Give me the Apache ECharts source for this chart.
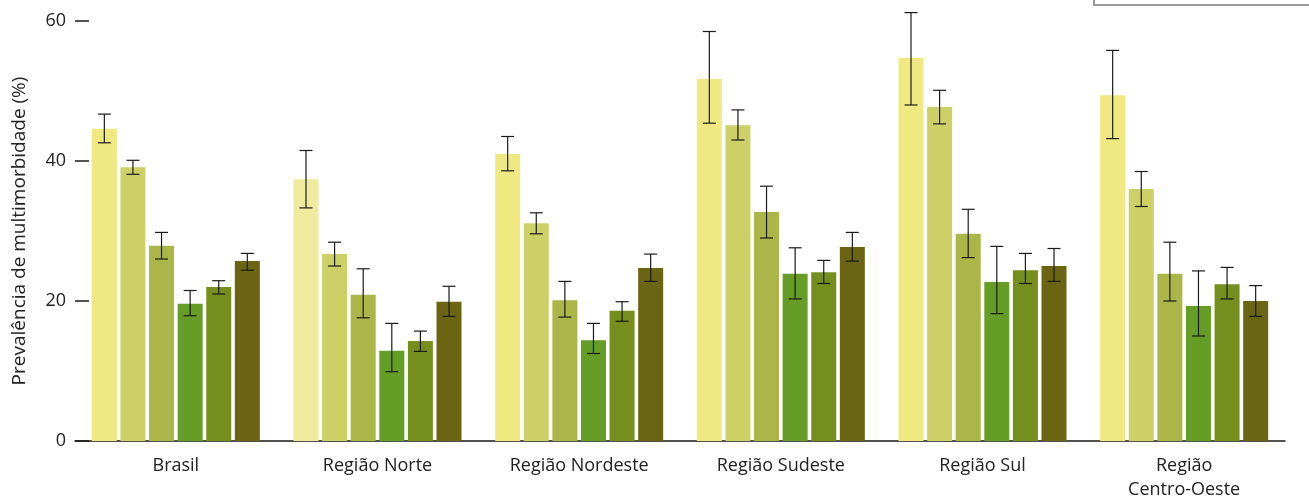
<!DOCTYPE html>
<html>
<head>
<meta charset="utf-8">
<script src="https://cdn.jsdelivr.net/npm/echarts@6/dist/echarts.min.js"></script>
<style>
  html, body { margin: 0; padding: 0; background: #fff; }
  #chart { width: 1309px; height: 499px; }
</style>
</head>
<body>
<div id="chart"></div>
<script>
// Regions on the x axis
const categories = ['Brasil', 'Região Norte', 'Região Nordeste', 'Região Sudeste', 'Região Sul', 'Região\nCentro-Oeste'];

// Prevalence (%) for each of the six series, one value per region
const serie1 = [44.6, 37.4, 41.0, 51.7, 54.7, 49.4];
const serie2 = [39.1, 26.7, 31.1, 45.1, 47.7, 36.0];
const serie3 = [27.9, 20.9, 20.1, 32.7, 29.6, 23.9];
const serie4 = [19.6, 12.9, 14.4, 23.9, 22.7, 19.3];
const serie5 = [22.0, 14.3, 18.6, 24.1, 24.4, 22.4];
const serie6 = [25.7, 19.9, 24.7, 27.7, 25.0, 20.0];

// 95% confidence limits (lower, upper) per series and region
const lower1 = [42.6, 33.3, 38.6, 45.4, 48.0, 43.2];
const upper1 = [46.7, 41.5, 43.5, 58.5, 61.2, 55.8];
const lower2 = [38.1, 25.0, 29.6, 43.0, 45.3, 33.5];
const upper2 = [40.1, 28.4, 32.6, 47.3, 50.1, 38.5];
const lower3 = [26.0, 17.6, 17.7, 29.0, 26.2, 20.0];
const upper3 = [29.8, 24.6, 22.8, 36.4, 33.1, 28.4];
const lower4 = [17.9, 9.9, 12.5, 20.3, 18.2, 15.0];
const upper4 = [21.5, 16.8, 16.8, 27.6, 27.8, 24.3];
const lower5 = [21.0, 12.8, 17.1, 22.5, 22.5, 20.3];
const upper5 = [22.9, 15.7, 19.9, 25.8, 26.8, 24.8];
const lower6 = [24.4, 17.8, 22.8, 25.7, 22.8, 17.8];
const upper6 = [26.8, 22.1, 26.7, 29.8, 27.5, 22.2];

const yTicks = [0, 20, 40, 60];

const colors = ['#F0E982', '#CDD066', '#ABB648', '#659D26', '#758E1E', '#6A6413'];

const values = [serie1, serie2, serie3, serie4, serie5, serie6];
const lowers = [lower1, lower2, lower3, lower4, lower5, lower6];
const uppers = [upper1, upper2, upper3, upper4, upper5, upper6];

const BAR_W = 25;
const BAR_GAP = 3.6;

const barSeries = values.map((vals, s) => ({
  type: 'bar',
  name: 'S' + (s + 1),
  data: vals.map((v, c) => {
    // the Norte bar of the first series is drawn in a paler tint
    if (s === 0 && c === 1) return { value: v, itemStyle: { color: '#EFEA9E' } };
    return v;
  }),
  barWidth: BAR_W,
  barGap: (BAR_GAP / BAR_W * 100) + '%',
  itemStyle: { color: colors[s] },
  silent: true
}));

const errData = [];
lowers.forEach((lo, s) => {
  lo.forEach((l, c) => errData.push([c, s, l, uppers[s][c]]));
});

const errorSeries = {
  type: 'custom',
  silent: true,
  z: 10,
  data: errData,
  encode: { x: 0, y: [2, 3] },
  renderItem: function (params, api) {
    const c = api.value(0);
    const s = api.value(1);
    const lo = api.coord([c, api.value(2)]);
    const hi = api.coord([c, api.value(3)]);
    const x = lo[0] + (s - 2.5) * (BAR_W + BAR_GAP);
    const cap = 6.5;
    const style = { stroke: '#1a1a1a', lineWidth: 1.2 };
    return {
      type: 'group',
      children: [
        { type: 'line', shape: { x1: x, y1: hi[1], x2: x, y2: lo[1] }, style: style },
        { type: 'line', shape: { x1: x - cap, y1: hi[1], x2: x + cap, y2: hi[1] }, style: style },
        { type: 'line', shape: { x1: x - cap, y1: lo[1], x2: x + cap, y2: lo[1] }, style: style }
      ]
    };
  }
};

const chart = echarts.init(document.getElementById('chart'), null, { renderer: 'canvas' });
chart.setOption({
  animation: false,
  backgroundColor: '#ffffff',
  textStyle: { fontFamily: '"Open Sans", "Noto Sans", sans-serif' },
  grid: { left: 75, right: 24, top: 21, bottom: 58, containLabel: false, outerBoundsMode: 'none' },
  xAxis: {
    type: 'category',
    data: categories,
    axisLine: { show: true, lineStyle: { color: '#1a1a1a', width: 1.5 } },
    axisTick: { show: false },
    axisLabel: { color: '#222', fontSize: 18, margin: 13, lineHeight: 24, interval: 0 }
  },
  yAxis: {
    type: 'value',
    min: yTicks[0],
    max: yTicks[yTicks.length - 1],
    interval: 20,
    name: 'Prevalência de multimorbidade (%)',
    nameLocation: 'middle',
    nameGap: 46,
    nameTextStyle: { color: '#222', fontSize: 19 },
    axisLine: { show: false },
    axisTick: { show: true, inside: true, length: 14, lineStyle: { color: '#1a1a1a', width: 1.5 } },
    axisLabel: { color: '#222', fontSize: 18, margin: 9 },
    splitLine: { show: false }
  },
  graphic: [{
    type: 'rect',
    shape: { x: 1094, y: -60, width: 240, height: 65 },
    style: { fill: 'none', stroke: '#999', lineWidth: 2 }
  }],
  series: barSeries.concat([errorSeries])
});
</script>
</body>
</html>
